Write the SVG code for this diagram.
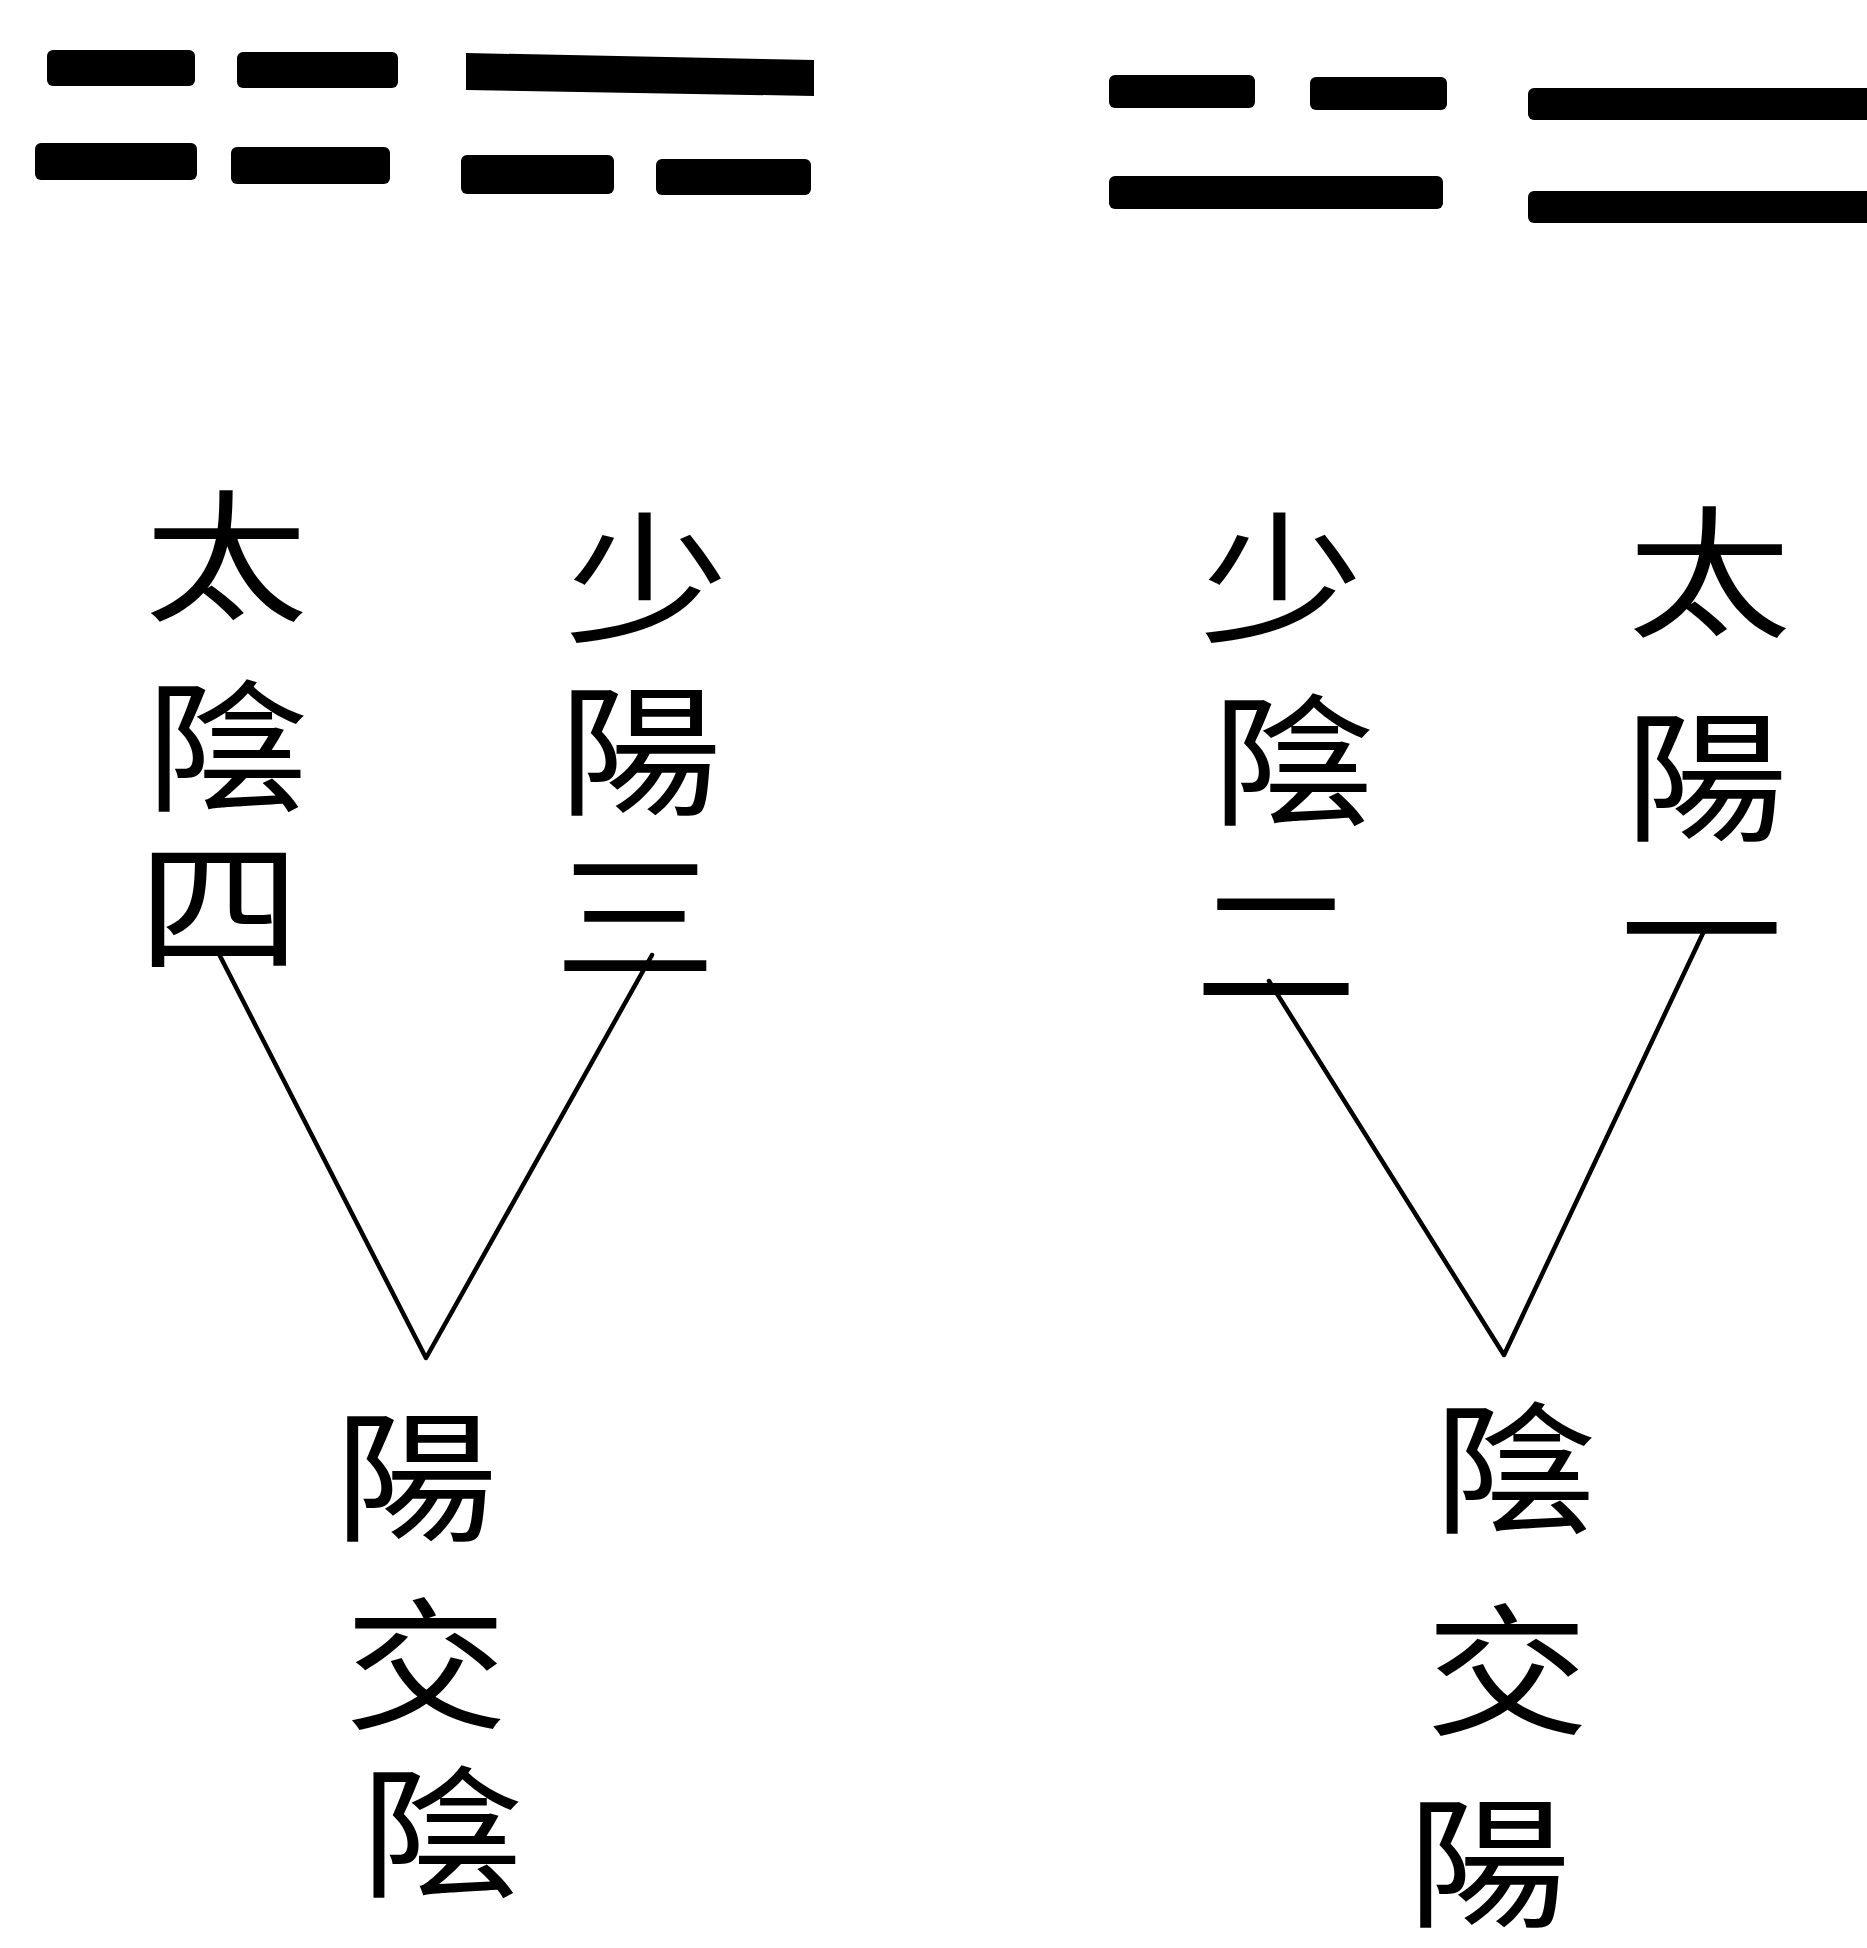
<svg xmlns="http://www.w3.org/2000/svg" width="1867" height="1948" viewBox="0 0 1867 1948">
<style>
  .bar { fill: #000; }
  .ch { font-family: "Noto Sans CJK TC", "Noto Sans CJK SC", "Noto Sans CJK JP", sans-serif; font-size: 142px; fill: #000; writing-mode: vertical-rl; text-anchor: start; }
  .link { fill: none; stroke: #000; stroke-width: 4.5; stroke-linecap: round; stroke-linejoin: round; }
</style>
<rect width="1867" height="1948" fill="#fff"/>
<g id="hexagram-left">
  <rect class="bar" x="47" y="50" width="148" height="36" rx="6"/>
  <rect class="bar" x="237" y="52" width="161" height="36" rx="6"/>
  <polygon class="bar" points="466,53 814,60 814,96 466,90"/>
  <rect class="bar" x="35" y="143" width="162" height="37" rx="6"/>
  <rect class="bar" x="231" y="147" width="159" height="37" rx="6"/>
  <rect class="bar" x="461" y="155" width="153" height="39" rx="6"/>
  <rect class="bar" x="656" y="159" width="155" height="36" rx="6"/>
</g>
<g id="hexagram-right">
  <rect class="bar" x="1109" y="75" width="146" height="33" rx="6"/>
  <rect class="bar" x="1310" y="77" width="137" height="33" rx="6"/>
  <rect class="bar" x="1528" y="88" width="345" height="32" rx="6"/>
  <rect class="bar" x="1109" y="176" width="334" height="33" rx="6"/>
  <rect class="bar" x="1528" y="191" width="345" height="32" rx="6"/>
</g>
<g id="taiyin-four" transform="matrix(1.15 0 0 1 -33.8 0)">
  <text class="ch"><tspan x="226" y="485">太</tspan><tspan x="227" y="675">陰</tspan><tspan x="220" y="835">四</tspan></text>
</g>
<g id="shaoyang-three" transform="matrix(1.15 0 0 1 -96 0)">
  <text class="ch"><tspan x="646" y="507">少</tspan><tspan x="640" y="679">陽</tspan><tspan x="636" y="845">三</tspan></text>
</g>
<g id="yang-jiao-yin" transform="matrix(1.15 0 0 1 -64 0)">
  <text class="ch"><tspan x="417" y="1405">陽</tspan><tspan x="426" y="1593">交</tspan><tspan x="440" y="1761">陰</tspan></text>
</g>
<g id="shaoyin-two" transform="matrix(1.15 0 0 1 -192.6 0)">
  <text class="ch"><tspan x="1282" y="507">少</tspan><tspan x="1292" y="689">陰</tspan><tspan x="1277" y="873">二</tspan></text>
</g>
<g id="taiyang-one" transform="matrix(1.15 0 0 1 -256 0)">
  <text class="ch"><tspan x="1709" y="501">太</tspan><tspan x="1706" y="705">陽</tspan><tspan x="1702" y="858">一</tspan></text>
</g>
<g id="yin-jiao-yang" transform="matrix(1.15 0 0 1 -226 0)">
  <text class="ch"><tspan x="1514" y="1397">陰</tspan><tspan x="1507" y="1599">交</tspan><tspan x="1491" y="1791">陽</tspan></text>
</g>
<g id="connectors">
  <polyline class="link" points="220,956 426,1358 652,955"/>
  <polyline class="link" points="1269,981 1504,1355 1704,931"/>
</g>
</svg>
